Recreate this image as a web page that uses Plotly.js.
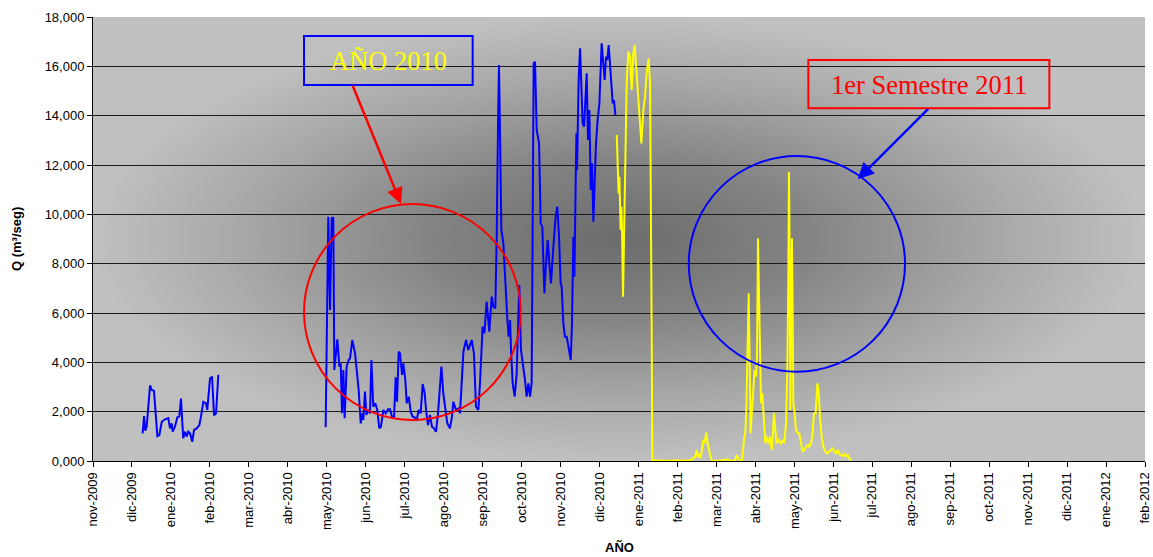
<!DOCTYPE html>
<html>
<head>
<meta charset="utf-8">
<script src="https://cdn.plot.ly/plotly-3.0.1.min.js"></script>
<style>
  html, body { margin: 0; padding: 0; background: #ffffff; }
  #chart { width: 1153px; height: 557px; }
</style>
</head>
<body>
<div id="chart"></div>
<script>
// ---- Data (days counted from 1 Nov 2009, values in m3/s) ----
const startDate = Date.UTC(2009, 10, 1);

const monthLabels = ['nov-2009','dic-2009','ene-2010','feb-2010','mar-2010','abr-2010','may-2010',
  'jun-2010','jul-2010','ago-2010','sep-2010','oct-2010','nov-2010','dic-2010','ene-2011','feb-2011',
  'mar-2011','abr-2011','may-2011','jun-2011','jul-2011','ago-2011','sep-2011','oct-2011','nov-2011',
  'dic-2011','ene-2012','feb-2012'];

const yTickValues = [0, 2000, 4000, 6000, 8000, 10000, 12000, 14000, 16000, 18000];
const yTickLabels = ['0,000','2,000','4,000','6,000','8,000','10,000','12,000','14,000','16,000','18,000'];

// Serie azul, tramo dic-2009 / feb-2010
const blueDays1 = [39.5,40.6,41.6,42.7,45.4,46.7,48.5,49.3,51.2,52.8,54.7,57.3,59.9,61.3,62.6,63.4,65.2,
  67.1,68.7,70.0,71.1,71.8,73.2,74.6,75.8,77.2,79.0,80.4,82.5,84.6,85.9,87.8,89.9,90.9,93.1,94.7,96.3,97.9,99.7];
const blueQ1 = [1120,1820,1230,1390,3070,2880,2850,2350,1010,1050,1590,1690,1740,1320,1530,1190,1390,
  1770,1800,2530,1660,920,1190,990,1190,1120,780,1260,1320,1460,1800,2400,2340,2070,3350,3420,1860,1930,3490];

// Serie azul, tramo may-2010 / dic-2010
const blueDays2 = [185.1,187.2,188.6,189.9,191.2,192.0,194.4,196.0,197.1,198.1,199.2,200.2,201.8,203.4,204.5,
  206.3,208.5,210.3,211.4,213.0,214.3,215.1,216.4,217.5,218.8,220.4,221.5,223.0,224.6,226.2,227.8,229.1,231.0,
  232.9,234.7,236.3,237.9,239.5,240.8,241.9,243.2,244.3,245.9,246.9,248.5,249.6,251.2,252.8,254.3,255.9,257.5,
  259.1,260.7,262.3,263.9,265.0,266.5,268.1,269.7,271.3,272.9,274.5,275.6,277.2,278.7,280.3,281.9,284.0,285.6,
  286.7,288.8,291.0,292.0,294.7,296.8,298.6,301.3,303.1,304.7,306.6,307.9,310.0,311.4,313.2,315.3,317.2,318.5,
  320.1,321.2,322.2,323.0,323.8,324.9,326.5,328.1,329.7,330.7,331.8,332.6,333.9,335.5,337.1,338.4,339.2,340.5,
  342.4,343.7,345.0,346.4,347.7,349.0,349.8,350.6,351.7,353.0,354.9,356.2,357.5,359.1,360.4,361.8,363.1,364.4,
  366.3,368.1,369.4,370.8,372.1,372.9,374.2,375.5,376.9,378.5,380.1,381.1,382.2,383.0,383.8,384.6,385.1,385.6,
  386.4,387.5,388.5,389.6,390.7,391.7,392.8,393.8,394.9,396.0,397.0,398.1,399.1,400.2,401.5,402.9,403.9,404.7,
  406.0,407.1,408.2,409.2,410.3,411.3,412.4,413.5,414.5,415.6];
const blueQ2 = [1365,9905,6121,9838,9878,3689,4932,3824,3959,1932,3689,1730,3824,4094,4162,
  4905,4365,3419,2878,1527,1932,1662,2811,1865,2067,1932,4094,2203,2338,2067,1324,1392,2067,
  1932,2094,2094,1797,1730,3392,2405,4432,4365,3486,3959,3284,2338,2608,2000,1797,1770,1635,
  2067,1932,3121,2743,2067,1459,1865,1392,1324,1189,1932,2878,3824,2743,2067,1527,1324,1797,
  2405,2067,2135,1932,4432,4905,4500,4905,4365,2202,2067,3148,5446,5175,6459,5243,6662,6256,
  6189,9094,13419,16054,13419,9365,8824,7067,5716,5040,5716,4500,3148,2608,3554,5851,7135,4500,
  3824,3284,2608,3148,2608,3148,9365,16122,16189,13419,12878,9635,9500,6797,8013,8959,8013,7202,
  8689,9905,10311,9094,7202,7067,5581,5040,5040,4500,4095,5581,9094,7473,12068,13284,11797,13419,
  15446,16730,15446,13689,13554,14906,15716,13014,14230,10987,12068,9703,11392,12878,13824,14500,15851,16932,
  16122,15446,16392,16257,16865,16122,15311,14500,14635,14027];

// Serie amarilla, dic-2010 / jun-2011
const yellowDays = [416.7,417.7,418.2,418.8,419.3,419.8,420.4,420.9,421.7,422.5,423.5,424.6,425.9,427.3,428.6,
  429.9,431.0,432.6,434.2,436.3,437.9,439.2,440.5,442.1,443.2,444.0,444.5,445.0,451.1,461.7,464.4,467.0,475.0,
  477.6,479.0,480.3,481.1,481.9,482.9,484.3,485.6,486.4,488.0,489.0,490.1,491.4,492.2,498.9,504.7,506.8,510.8,
  512.1,513.2,514.8,516.4,517.9,519.0,519.8,520.9,521.7,522.4,523.2,524.3,525.4,526.4,527.5,528.3,529.1,529.9,
  530.7,531.5,532.5,533.6,534.9,536.0,537.6,538.6,540.0,541.0,541.8,542.9,543.9,545.5,547.1,548.7,550.0,551.4,
  552.4,553.2,553.7,554.3,554.8,555.6,556.1,556.7,557.2,558.3,559.3,560.6,562.0,563.3,564.6,565.9,567.3,568.9,
  569.9,571.2,572.3,573.6,575.0,576.3,577.3,578.4,579.7,581.1,582.7,584.2,585.8,587.2,588.5,589.8,591.1,592.5,
  593.8,595.1,596.4,597.8,599.1,600.4,601.7,602.8];
const yellowQ = [13216,11527,10851,11527,10311,9365,10311,9365,6662,9365,12743,15311,16595,16392,15041,
  16527,16865,15716,14230,12878,14230,14770,15716,16324,15311,10716,5311,41,14,14,40,14,27,
  108,176,446,149,311,108,378,851,716,1149,716,446,149,14,14,68,14,14,
  243,108,40,40,851,1189,2068,4500,6797,4229,1122,2068,3149,3689,3419,4229,9027,6121,
  3419,2338,2743,1662,716,986,716,986,446,1122,1932,1257,716,851,716,851,716,1527,
  3689,7203,11730,8554,2068,6527,9027,5851,2338,1932,1257,1122,1122,716,378,446,581,648,
  581,716,986,1932,1932,3149,2878,1797,986,581,378,311,378,446,513,378,311,446,
  284,243,203,284,176,243,108,13];

// ---- Build ----
const toDate = d => startDate + d * 86400000;
const blueX = blueDays1.map(toDate).concat([null], blueDays2.map(toDate));
const blueY = blueQ1.concat([null], blueQ2);

const traces = [
  { x: blueX, y: blueY, type: 'scatter', mode: 'lines', connectgaps: false,
    line: { color: '#0000ff', width: 2 }, hoverinfo: 'skip', showlegend: false },
  { x: yellowDays.map(toDate), y: yellowQ, type: 'scatter', mode: 'lines',
    line: { color: '#ffff00', width: 2 }, hoverinfo: 'skip', showlegend: false }
];

// Radial grey background (Excel-style "from centre" gradient)
function gradientURL(w, h) {
  const c = document.createElement('canvas');
  c.width = w; c.height = h;
  const ctx = c.getContext('2d');
  ctx.fillStyle = '#c0c0c0';
  ctx.fillRect(0, 0, w, h);
  ctx.setTransform(w / 2, 0, 0, h / 2, w / 2, h / 2);
  const g = ctx.createRadialGradient(0, 0, 0, 0, 0, 1);
  g.addColorStop(0, '#6c6c6c');
  g.addColorStop(0.35, '#838383');
  g.addColorStop(0.7, '#a6a6a6');
  g.addColorStop(1, '#c0c0c0');
  ctx.fillStyle = g;
  ctx.fillRect(-1, -1, 2, 2);
  return c.toDataURL('image/png');
}

const font = 'Liberation Sans, Arial, sans-serif';
const serif = 'Liberation Serif, Times New Roman, serif';

const layout = {
  width: 1153, height: 557,
  margin: { l: 93, r: 8, t: 17, b: 96 },
  paper_bgcolor: '#ffffff',
  plot_bgcolor: 'rgba(0,0,0,0)',
  font: { family: font, size: 13, color: '#000' },
  xaxis: {
    type: 'date',
    range: [toDate(0), toDate(31 * (monthLabels.length - 1))],
    tickvals: monthLabels.map((_, i) => toDate(31 * i)),
    ticktext: monthLabels,
    tickangle: -90,
    ticks: 'outside', ticklen: 5, tickwidth: 1, tickcolor: '#000',
    showline: true, linecolor: '#000', linewidth: 1,
    showgrid: false, zeroline: false,
    tickfont: { family: font, size: 13, color: '#000' }
  },
  yaxis: {
    range: [0, 18000],
    tickvals: yTickValues, ticktext: yTickLabels,
    ticks: 'outside', ticklen: 5, tickwidth: 1, tickcolor: '#000',
    showline: true, linecolor: '#000', linewidth: 1,
    showgrid: true, gridcolor: '#1a1a1a', gridwidth: 1, zeroline: false,
    tickfont: { family: font, size: 13, color: '#000' }
  },
  images: [{
    source: gradientURL(1052, 444), xref: 'paper', yref: 'paper',
    x: 0, y: 1, sizex: 1, sizey: 1, xanchor: 'left', yanchor: 'top',
    sizing: 'stretch', layer: 'below'
  }],
  shapes: [
    { type: 'rect', xref: 'paper', yref: 'paper', x0: 0.2006, x1: 0.3609, y0: 0.8468, y1: 0.9572,
      line: { color: '#0000ff', width: 2 }, fillcolor: 'rgba(0,0,0,0)' },
    { type: 'rect', xref: 'paper', yref: 'paper', x0: 0.6800, x1: 0.9091, y0: 0.7944, y1: 0.9032,
      line: { color: '#ff0000', width: 2 }, fillcolor: 'rgba(0,0,0,0)' },
    { type: 'circle', xref: 'paper', yref: 'paper', x0: 0.2006, x1: 0.4066, y0: 0.0923, y1: 0.5788,
      line: { color: '#ff0000', width: 2 } },
    { type: 'circle', xref: 'paper', yref: 'paper', x0: 0.5663, x1: 0.7719, y0: 0.2011, y1: 0.6869,
      line: { color: '#0000ff', width: 2 } }
  ],
  annotations: [
    { xref: 'paper', yref: 'paper', x: -0.0732, y: 0.5, text: '<b>Q (m³/seg)</b>', showarrow: false,
      textangle: -90, xanchor: 'center', yanchor: 'middle', font: { family: font, size: 13, color: '#000' } },
    { xref: 'paper', yref: 'paper', x: 0.5005, y: -0.1937, text: '<b>AÑO</b>', showarrow: false,
      xanchor: 'center', yanchor: 'middle', font: { family: font, size: 13, color: '#000' } },
    { xref: 'paper', yref: 'paper', x: 0.2808, y: 0.9000, text: 'AÑO 2010', showarrow: false,
      xanchor: 'center', yanchor: 'middle', font: { family: serif, size: 26.5, color: '#ffff00' } },
    { xref: 'paper', yref: 'paper', x: 0.7946, y: 0.8470, text: '1er Semestre 2011', showarrow: false,
      xanchor: 'center', yanchor: 'middle', font: { family: serif, size: 26.5, color: '#ff0000' } },
    { xref: 'paper', yref: 'paper', x: 0.2928, y: 0.5788, ax: -49, ay: -120, axref: 'pixel', ayref: 'pixel',
      text: '', showarrow: true, arrowhead: 2, arrowsize: 1.3, arrowwidth: 2.5, arrowcolor: '#ff0000', standoff: 0 },
    { xref: 'paper', yref: 'paper', x: 0.7269, y: 0.6345, ax: 72, ay: -72, axref: 'pixel', ayref: 'pixel',
      text: '', showarrow: true, arrowhead: 2, arrowsize: 1.3, arrowwidth: 2.5, arrowcolor: '#0000ff', standoff: 0 }
  ]
};

Plotly.newPlot('chart', traces, layout, { staticPlot: true, displayModeBar: false });
</script>
</body>
</html>
